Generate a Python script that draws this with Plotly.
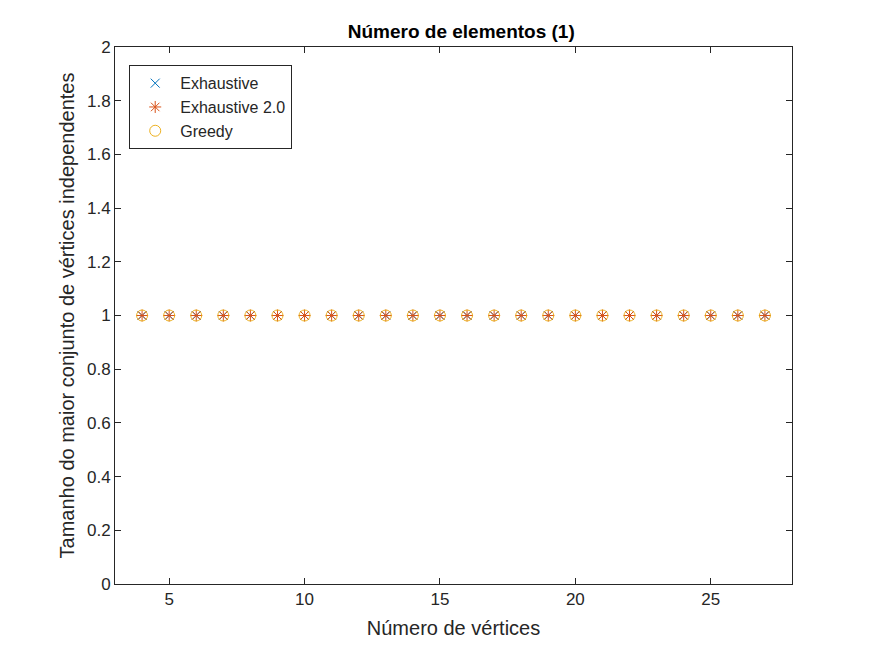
import plotly.graph_objects as go

vertices = list(range(4, 28))
exhaustive = [1] * len(vertices)
exhaustive2 = [1] * len(vertices)
greedy = [1] * len(vertices)

fig = go.Figure()
fig.add_trace(go.Scatter(x=vertices, y=exhaustive, mode="markers", name="Exhaustive",
                         marker=dict(symbol="x-thin", size=9, line=dict(color="#0072BD", width=1))))
fig.add_trace(go.Scatter(x=vertices, y=exhaustive2, mode="markers", name="Exhaustive 2.0",
                         marker=dict(symbol="asterisk", size=10, line=dict(color="#D95319", width=1))))
fig.add_trace(go.Scatter(x=vertices, y=greedy, mode="markers", name="Greedy",
                         marker=dict(symbol="circle-open", size=11, color="#EDB120",
                                     line=dict(color="#EDB120", width=1))))

axis = dict(showgrid=False, zeroline=False, showline=True, linecolor="#262626", linewidth=1,
            mirror="ticks", ticks="inside", ticklen=6, tickcolor="#262626",
            tickfont=dict(size=17, color="#262626"))
fig.update_xaxes(range=[3, 28], tickvals=[5, 10, 15, 20, 25],
                 title=dict(text="Número de vértices", font=dict(size=20, color="#262626"), standoff=12), **axis)
fig.update_yaxes(range=[0, 2], dtick=0.2, tickformat="~g",
                 title=dict(text="Tamanho do maior conjunto de vértices independentes",
                            font=dict(size=20, color="#262626"), standoff=6), **axis)

fig.update_layout(
    width=875, height=656, paper_bgcolor="white", plot_bgcolor="white",
    font=dict(family="Liberation Sans, Arial, sans-serif", color="#262626"),
    margin=dict(l=107, r=91, t=39, b=80, autoexpand=False),
    title=dict(text="<b>Número de elementos (1)</b>", x=0.518, xanchor="center",
               y=0.955, yanchor="bottom", font=dict(size=19, color="black")),
    legend=dict(x=0.021, y=0.966, xanchor="left", yanchor="top", bordercolor="#262626",
                borderwidth=1, bgcolor="white", font=dict(size=16), itemwidth=40),
    showlegend=True,
)

fig.write_html("out.html")
